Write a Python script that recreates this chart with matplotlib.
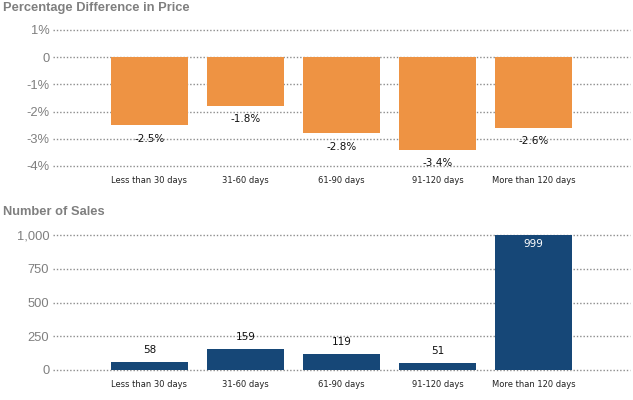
import matplotlib
matplotlib.use('Agg')
import matplotlib.pyplot as plt

# data
categories = ['Less than 30 days', '31-60 days', '61-90 days', '91-120 days', 'More than 120 days']
pct_diff = [-2.5, -1.8, -2.8, -3.4, -2.6]
sales = [58, 159, 119, 51, 999]
pct_ticks = [1, 0, -1, -2, -3, -4]
pct_tick_labels = ['1%', '0', '-1%', '-2%', '-3%', '-4%']
sales_ticks = [0, 250, 500, 750, 1000]
sales_tick_labels = ['0', '250', '500', '750', '1,000']

orange = '#EE9343'
navy = '#164777'
grey = '#7f7f7f'

fig = plt.figure(figsize=(6.33, 4.0), dpi=100)
ax1 = fig.add_axes([0.0845, 0.585, 0.91, 0.34])
ax2 = fig.add_axes([0.0845, 0.075, 0.91, 0.3375])

x = list(range(len(categories)))

def style(ax, ticks, labels):
    for s in ax.spines.values():
        s.set_visible(False)
    ax.set_yticks(ticks)
    ax.set_yticklabels(labels, color=grey, fontsize=9.3, family='Liberation Sans')
    ax.set_xticks(x)
    ax.set_xticklabels(categories, fontsize=6, color='#222222')
    ax.tick_params(axis='y', length=0, pad=3)
    ax.tick_params(axis='x', length=0, pad=7)
    ax.set_xlim(-1, 5)
    ax.set_axisbelow(True)
    ax.grid(axis='y', color='#8c8c8c', linestyle=(0, (1, 1.4)), linewidth=1.0)
    for l in ax.get_ygridlines():
        l.set_clip_on(False)

# top panel
ax1.bar(x, pct_diff, width=0.8, color=orange)
style(ax1, pct_ticks, pct_tick_labels)
ax1.set_ylim(-4, 1)
for xi, v in zip(x, pct_diff):
    ax1.annotate('%.1f%%' % v, (xi, v), xytext=(0, -6), textcoords='offset points',
                 ha='center', va='top', fontsize=7.5, color='#111111')

# bottom panel
ax2.bar(x, sales, width=0.8, color=navy)
style(ax2, sales_ticks, sales_tick_labels)
ax2.set_ylim(0, 1000)
for xi, v in zip(x, sales):
    if v > 900:
        ax2.annotate(str(v), (xi, v), xytext=(0, -3), textcoords='offset points',
                     ha='center', va='top', fontsize=7.5, color='white')
    else:
        ax2.annotate(str(v), (xi, v), xytext=(0, 5), textcoords='offset points',
                     ha='center', va='bottom', fontsize=7.5, color='#111111')

fig.text(0.005, 1 - 8 / 400, 'Percentage Difference in Price', fontsize=9.3, fontweight='bold',
         color=grey, va='center', ha='left', family='Liberation Sans')
fig.text(0.005, 1 - 212 / 400, 'Number of Sales', fontsize=9.3, fontweight='bold',
         color=grey, va='center', ha='left', family='Liberation Sans')

fig.savefig('out.png', dpi=100)
